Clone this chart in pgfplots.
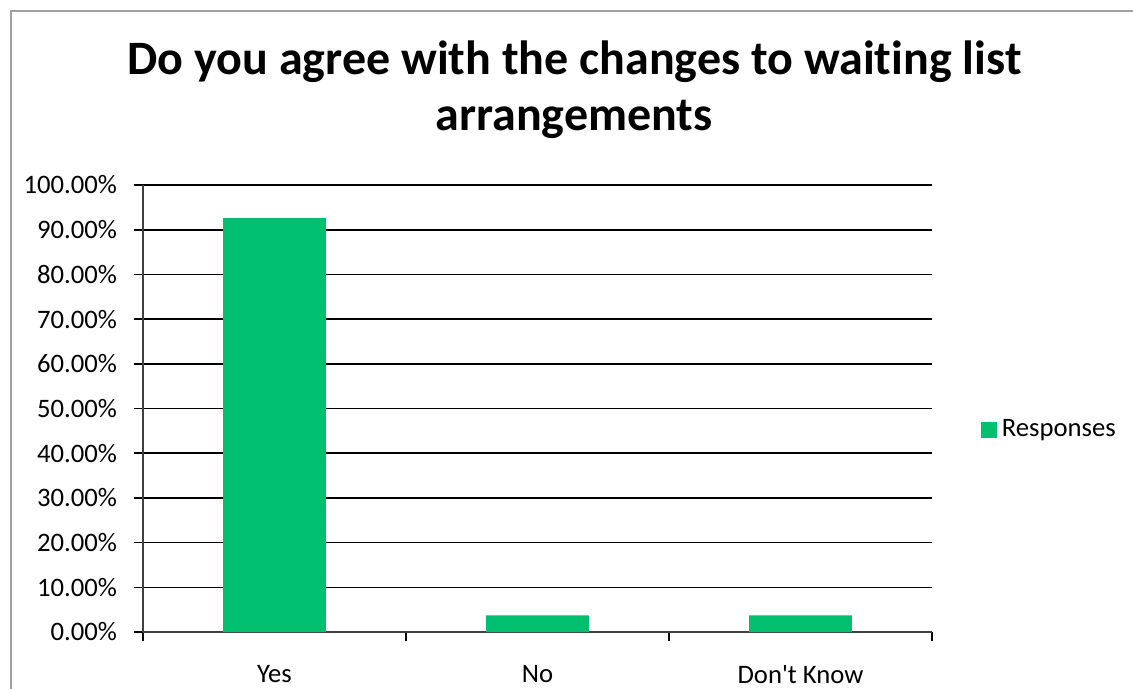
\documentclass[border=0pt]{standalone}
\usepackage{pgfplots}
\pgfplotsset{compat=1.18}
\usepackage{fontspec}
\setmainfont{Carlito}[Ligatures={TeXOff,NoCommon}]
\definecolor{barg}{RGB}{0,191,111}
\definecolor{frameg}{RGB}{160,160,160}
\begin{document}
\begin{tikzpicture}[x=0.375pt,y=-0.375pt]
\path[use as bounding box] (0,0) rectangle (1133,689);
\draw[frameg, line width=0.75pt] (11,689) -- (11,11) -- (1133,11);
\node[anchor=base, font=\fontsize{18}{22}\selectfont\bfseries, inner sep=0pt] at (574.5,74) {Do you agree with the changes to waiting list};
\node[anchor=base, font=\fontsize{18}{22}\selectfont\bfseries, inner sep=0pt] at (574,130) {arrangements};
\begin{axis}[
  at={(53.625pt,-237pt)}, anchor=south west,
  width=295.875pt, height=167.625pt, scale only axis,
  xmin=-0.5, xmax=2.5, ymin=0, ymax=100,
  axis lines=left, axis line style={-, black!75, line width=0.7pt},
  xtick={-0.5,0.5,1.5,2.5}, xticklabels={},
  extra x ticks={0,1,2}, extra x tick labels={Yes,No,Don't Know},
  extra x tick style={major tick length=0pt, grid=none},
  ytick={0,10,...,100},
  yticklabels={0.00\%,10.00\%,20.00\%,30.00\%,40.00\%,50.00\%,60.00\%,70.00\%,80.00\%,90.00\%,100.00\%},
  ymajorgrids, major grid style={black, line width=0.6pt},
  tick align=outside, major tick length=3.2pt,
  tick style={black, line width=0.6pt},
  ticklabel style={font=\fontsize{10}{12}\selectfont},
  xticklabel style={yshift=-9pt},
  yticklabel style={xshift=-3pt},
  legend style={draw=none, fill=none, at={(axis description cs:1,0.452)}, anchor=west, xshift=18pt, font=\fontsize{10}{12}\selectfont, inner sep=0pt},
  legend image code/.code={\fill[#1] (0pt,-3pt) rectangle (6pt,3pt);},
]
\addplot[ybar, bar width=38.5pt, fill=barg, draw=none] coordinates {(0,92.59) (1,3.70) (2,3.70)};
\addlegendentry{Responses}
\end{axis}
\end{tikzpicture}
\end{document}
